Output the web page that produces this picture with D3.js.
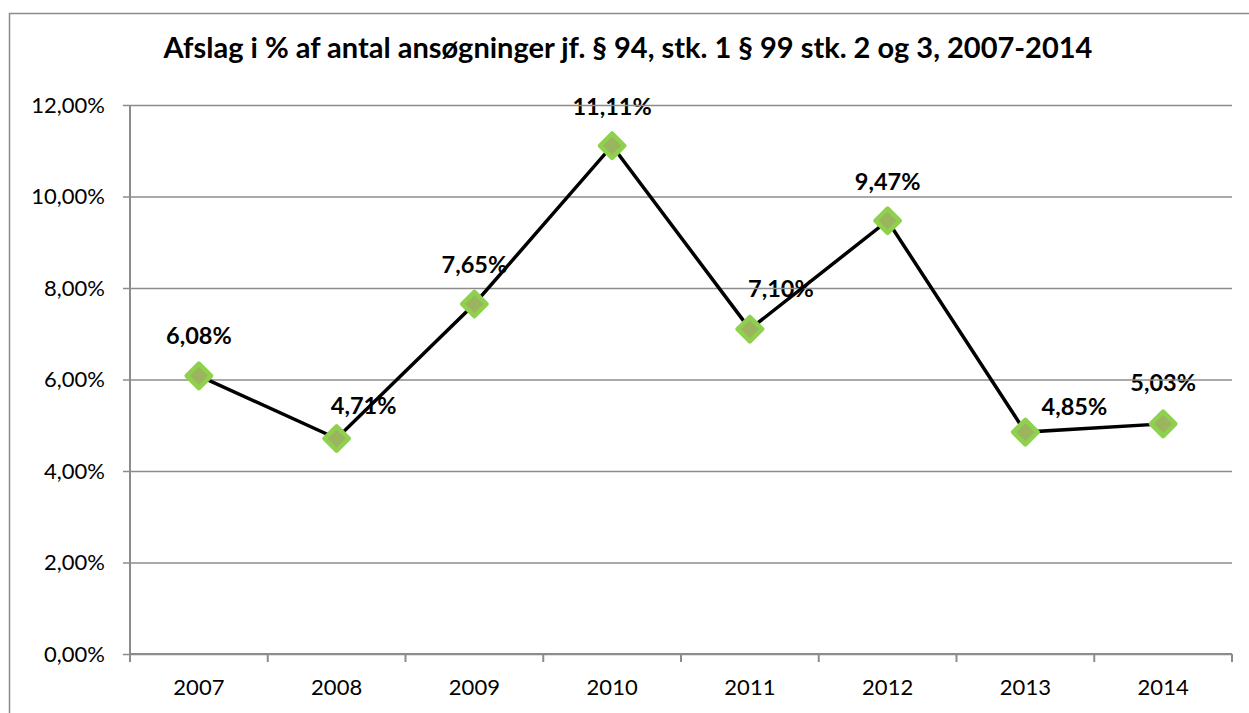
<!DOCTYPE html>
<html>
<head>
<meta charset="utf-8">
<script src="https://cdn.jsdelivr.net/npm/d3@7"></script>
<style>
  body { margin: 0; background: #fff; overflow: hidden; }
  svg { display: block; font-family: Lato, "Open Sans", sans-serif; }
</style>
</head>
<body>
<div id="chart"></div>
<script>
const years = ['2007', '2008', '2009', '2010', '2011', '2012', '2013', '2014'];
const rates = [6.08, 4.71, 7.65, 11.11, 7.10, 9.47, 4.85, 5.03];
const yTicks = [0, 2, 4, 6, 8, 10, 12];
const titleText = 'Afslag i % af antal ansøgninger jf. § 94, stk. 1 § 99 stk. 2 og 3, 2007-2014';

// label nudges (px) so the labels sit where they do in the original
const labelShift = [[0, -40], [27, -33], [0, -39], [0, -39], [31, -40], [0, -39], [49, -25], [0, -41]];

const width = 1249;
const height = 713;
const margin = { left: 130, right: 17, top: 105, bottom: 59 };
const innerWidth = width - margin.left - margin.right;
const innerHeight = height - margin.top - margin.bottom;

const fmt = v => v.toFixed(2).replace('.', ',') + '%';

const svg = d3.select('#chart').append('svg')
    .attr('width', width)
    .attr('height', height);

// outer chart border
svg.append('rect')
    .attr('x', 9.5)
    .attr('y', 13.5)
    .attr('width', width)
    .attr('height', height)
    .attr('fill', 'none')
    .attr('stroke', '#8c8c8c')
    .attr('stroke-width', 1.5);

svg.append('text')
    .attr('x', 628)
    .attr('y', 58)
    .attr('text-anchor', 'middle')
    .style('font-weight', 'bold')
    .style('font-size', '29px')
    .text(titleText);

const g = svg.append('g')
    .attr('transform', `translate(${margin.left},${margin.top})`);

const xScale = d3.scaleBand()
    .domain(years)
    .range([0, innerWidth]);

const yScale = d3.scaleLinear()
    .domain([0, 12])
    .range([innerHeight, 0]);

// labels go first; grid and line cross over them like in the original
const labels = g.append('g');
labels.selectAll('text').data(rates)
    .enter().append('text')
    .attr('x', (d, i) => xScale(years[i]) + xScale.bandwidth() / 2 + labelShift[i][0])
    .attr('y', (d, i) => yScale(d) + labelShift[i][1])
    .attr('dy', '0.35em')
    .attr('text-anchor', 'middle')
    .style('font-weight', 'bold')
    .style('font-size', '23.5px')
    .text(fmt);

const yAxis = d3.axisLeft(yScale)
    .tickValues(yTicks)
    .tickSize(-innerWidth)
    .tickPadding(25)
    .tickFormat(fmt);

const yAxisG = g.append('g').call(yAxis);
yAxisG.select('.domain').remove();
yAxisG.selectAll('.tick line')
    .attr('x1', -7)
    .attr('stroke', '#8c8c8c')
    .attr('stroke-width', 1.3);
yAxisG.selectAll('.tick text')
    .style('font-size', '22px')
    .style('font-family', 'Lato, sans-serif')
    .attr('fill', '#000');

g.append('line')
    .attr('x1', 0).attr('x2', 0)
    .attr('y1', 0).attr('y2', innerHeight)
    .attr('stroke', '#8c8c8c')
    .attr('stroke-width', 2);

const xAxis = d3.axisBottom(xScale)
    .tickSize(0)
    .tickPadding(25);

const xAxisG = g.append('g')
    .attr('transform', `translate(0,${innerHeight})`)
    .call(xAxis);
xAxisG.select('.domain')
    .attr('stroke', '#8c8c8c')
    .attr('stroke-width', 2)
    .attr('d', `M0,0H${innerWidth}`);
xAxisG.selectAll('.tick text')
    .style('font-size', '22px')
    .style('font-family', 'Lato, sans-serif')
    .attr('fill', '#000');

// tick marks at category boundaries
xAxisG.selectAll('line.sep').data(years.concat(['end']))
    .enter().append('line')
    .attr('class', 'sep')
    .attr('x1', (d, i) => i * xScale.step())
    .attr('x2', (d, i) => i * xScale.step())
    .attr('y1', 0)
    .attr('y2', 8)
    .attr('stroke', '#8c8c8c')
    .attr('stroke-width', 2);

const line = d3.line()
    .x((d, i) => xScale(years[i]) + xScale.bandwidth() / 2)
    .y(d => yScale(d));

g.append('path')
    .datum(rates)
    .attr('d', line)
    .attr('fill', 'none')
    .attr('stroke', '#000')
    .attr('stroke-width', 3.5);

const diamond = d3.symbol().type(d3.symbolDiamond2).size(380);
g.selectAll('path.marker').data(rates)
    .enter().append('path')
    .attr('class', 'marker')
    .attr('transform', (d, i) => `translate(${xScale(years[i]) + xScale.bandwidth() / 2},${yScale(d)})`)
    .attr('d', diamond)
    .attr('fill', '#9bb55e')
    .attr('stroke', '#8fd14f')
    .attr('stroke-width', 4.5)
    .attr('stroke-linejoin', 'round');
</script>
</body>
</html>
